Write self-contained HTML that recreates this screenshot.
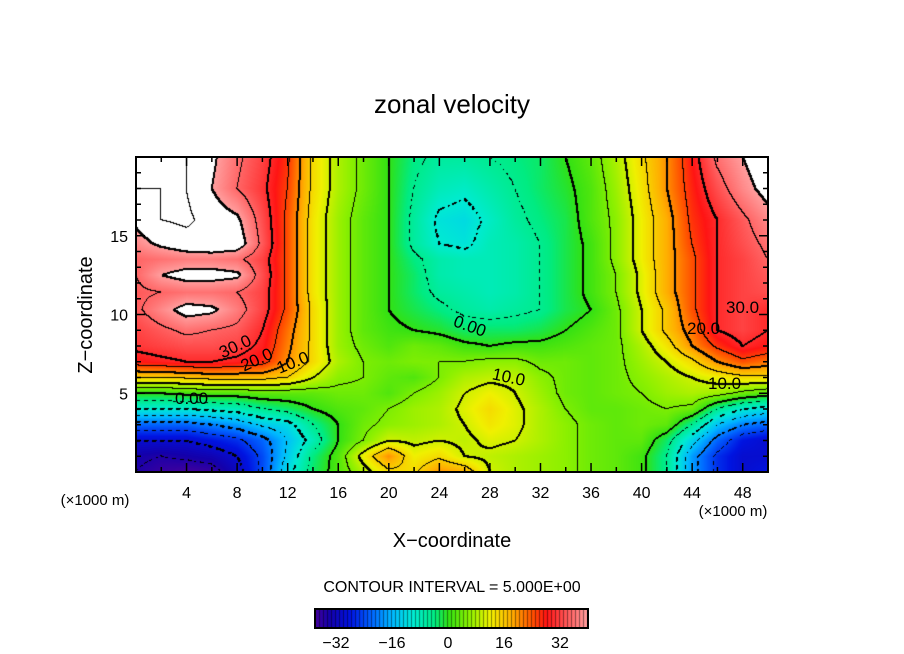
<!DOCTYPE html>
<html><head><meta charset="utf-8"><style>
body{margin:0;background:#fff;}
#wrap{position:relative;width:904px;height:654px;overflow:hidden;background:#fff;font-family:"Liberation Sans",sans-serif;}
canvas{position:absolute;}
svg{position:absolute;left:0;top:0;}
</style></head><body>
<div id="wrap">
<canvas id="field" width="632" height="315" style="left:136px;top:157px;"></canvas>
<canvas id="cbar" width="273" height="19" style="left:315px;top:609px;"></canvas>
<svg id="ov" width="904" height="654">
<text x="452" y="113" font-size="26" text-anchor="middle">zonal velocity</text>
<text x="452" y="547" font-size="20" text-anchor="middle">X−coordinate</text>
<text transform="translate(92,315) rotate(-90)" font-size="20" text-anchor="middle">Z−coordinate</text>
<text x="95" y="505" font-size="15" text-anchor="middle">(×1000 m)</text>
<text x="733" y="516" font-size="15" text-anchor="middle">(×1000 m)</text>
<text x="452" y="592" font-size="16" text-anchor="middle">CONTOUR INTERVAL = 5.000E+00</text>
<g id="ticks"></g>
<g font-size="17" fill="#000">
<text x="218" y="352" transform="rotate(-25 235 345)">30.0</text>
<text x="240" y="366" transform="rotate(-25 255 360)">20.0</text>
<text x="276" y="368" transform="rotate(-22 293 362)">10.0</text>
<text x="175" y="404">0.00</text>
<text x="452" y="332" transform="rotate(20 470 330)">0.00</text>
<text x="492" y="383" transform="rotate(12 510 378)">10.0</text>
<text x="726" y="313">30.0</text>
<text x="687" y="334">20.0</text>
<text x="708" y="389">10.0</text>
</g>
<rect x="136" y="157" width="632" height="315" fill="none" stroke="#000" stroke-width="2"/>
<rect x="315" y="609" width="273" height="19" fill="none" stroke="#000" stroke-width="2"/>
<g font-size="16" text-anchor="middle" id="cbl"></g>
</svg>
</div>
<script>
const xs=[0,2,4,6,8,10,12,14,16,18,20,22,24,26,28,30,32,34,36,38,40,42,44,46,48,50];
const zs=[0,1,2,3,4,5,6,7,8,9,10.3,11.4,12.5,13.5,14.5,16,18,20];
const z0=[-35,-37,-38,-37,-32,-24,-12,-3,2,8,14,14,20,18,10,8,7,6,4,3,1,-5,-18,-26,-30,-28];
const z1=[-34,-35,-34,-33,-30,-24,-14,-4,2,12,20,12,14,10,9,8,7,6,4,3,1,-5,-18,-26,-30,-30];
const z2=[-30,-30,-30,-28,-26,-22,-15,-8,0,5,10,9,10,9,11,10,8,6,4,3,3,-3,-13,-22,-28,-30];
const z3=[-22,-22,-22,-20,-18,-14,-12,-5,0,4,6,7,8,10,13,11,8,6,4,3,4,3,-5,-15,-20,-22];
const z4=[-10,-10,-10,-9,-8,-5,-3,0,2,3,5,7,8,11,14,11,8,5,3,3,4,5,4,-5,-10,-12];
const z5=[0,0,1,2,2,3,3,3,4,4,2,5,7,10,12,10,7,4,3,4,5,7,8,7,4,2];
const z6=[15,15,16,17,17,17,15,10,6,5,3,2,5,8,9,9,6,4,3,4,6,8,10,12,14,14];
const z7=[28,29,30,30,29,27,20,14,8,5,4,5,5,5,6,6,4,4,3,4,7,10,14,20,24,22];
const z8=[31,32,33,33,32,29,21,14,7,4,2,4,3,1,0,1,1,2,3,4,8,13,20,26,30,28];
const z9=[32,34,36,35,34,30,22,14,7,3,1,0,-1,-3,-3,-3,-2,0,2,4,10,16,22,30,32,30];
const z10=[34,38,42,41,37,32,24,14,7,3,0,-2,-4,-6,-7,-6,-5,-2,0,4,10,16,24,30,32,30];
const z11=[34,35,36,36,35,32,24,13,7,3,0,-3,-6,-7,-8,-7,-5,-2,1,5,11,18,24,30,32,33];
const z12=[35,40,42,42,41,33,24,13,7,3,0,-3,-7,-8,-8,-7,-5,-2,1,5,11,18,24,30,32,34];
const z13=[35,36,37,37,36,32,24,13,7,3,0,-4,-7,-8,-8,-7,-5,-2,1,6,12,18,24,30,32,35];
const z14=[38,41,43,44,43,34,24,13,7,3,0,-6,-10,-11,-8,-7,-5,-2,1,6,12,18,25,30,33,36];
const z16=[41,45,46,43,41,33,24,13,7,3,0,-6,-11,-12,-9,-6,-4,-2,2,6,12,18,26,30,34,38];
const z18=[45,45,45,40,35,31,25,14,8,4,0,-5,-8,-9,-7,-5,-3,-1,2,7,13,20,27,33,38,42];
const z20=[45,45,45,41,36,32,26,14,8,4,0,-4,-6,-6,-5,-4,-3,0,3,8,14,20,28,36,40,44];
const grid=[z0,z1,z2,z3,z4,z5,z6,z7,z8,z9,z10,z11,z12,z13,z14,z16,z18,z20];
const xTicks=[4,8,12,16,20,24,28,32,36,40,44,48];
const zTicks=[5,10,15];
const cbTicks=[-32,-16,0,16,32];

const stops=[[-40,[90,0,150]],[-34,[20,0,170]],[-28,[0,20,225]],[-22,[0,100,255]],[-16,[0,185,255]],[-10,[0,235,210]],[-4,[0,235,130]],[0,[50,225,20]],[6,[140,240,0]],[12,[240,240,0]],[18,[255,175,0]],[24,[255,80,0]],[28,[255,20,20]],[34,[255,90,90]],[40,[255,160,160]]];
function col(v){
  if(v>40) return [255,255,255];
  if(v<=stops[0][0]) return stops[0][1];
  for(let i=0;i<stops.length-1;i++){
    if(v<=stops[i+1][0]){const t=(v-stops[i][0])/(stops[i+1][0]-stops[i][0]);
      return stops[i][1].map((c,k)=>c+(stops[i+1][1][k]-c)*t);}
  }
  return stops[stops.length-1][1];
}
function seg(arr,v){let i=0;while(i<arr.length-2&&v>arr[i+1])i++;return i;}
function val(X,Z){
  const i=seg(xs,X),j=seg(zs,Z);
  const tx=Math.min(1,Math.max(0,(X-xs[i])/(xs[i+1]-xs[i]))),tz=Math.min(1,Math.max(0,(Z-zs[j])/(zs[j+1]-zs[j])));
  const a=grid[j][i],b=grid[j][i+1],c=grid[j+1][i],d=grid[j+1][i+1];
  return (a*(1-tx)+b*tx)*(1-tz)+(c*(1-tx)+d*tx)*tz;
}
const W=632,H=315;
const xScale=X=>136+X*W/50, zScale=Z=>472-Z*H/20;
const cv=document.getElementById('field'),ctx=cv.getContext('2d');
const img=ctx.createImageData(W,H);
const V=new Float32Array(W*H);
for(let j=0;j<H;j++)for(let i=0;i<W;i++)V[j*W+i]=val((i+0.5)*50/W,20-(j+0.5)*20/H);
for(let p=0;p<W*H;p++){const c=col(V[p]);img.data[p*4]=c[0];img.data[p*4+1]=c[1];img.data[p*4+2]=c[2];img.data[p*4+3]=255;}
function setBlack(i,j){if(i<0||j<0||i>=W||j>=H)return;const p=(j*W+i)*4;img.data[p]=img.data[p+1]=img.data[p+2]=0;}
for(let j=0;j<H-1;j++)for(let i=0;i<W-1;i++){
  const v=V[j*W+i];const a=Math.floor(v/5);
  const nb=[V[j*W+i+1],V[(j+1)*W+i]];
  for(const w of nb){const b=Math.floor(w/5);if(a!==b){
    const L=Math.max(a,b)*5;
    if(L<0&&(((i>>2)+(j>>2))&1))continue;
    setBlack(i,j);
    if(L%10===0){setBlack(i+1,j);setBlack(i,j+1);}
  }}
}
ctx.putImageData(img,0,0);
const cb=document.getElementById('cbar').getContext('2d');
for(let i=0;i<273;i++){const v=-38+i*78/273;const c=col(Math.min(v,40));cb.fillStyle=`rgb(${c.map(Math.round).join(',')})`;cb.fillRect(i,0,1,19);if(i%4===0){cb.fillStyle='rgba(0,0,0,0.45)';cb.fillRect(i,0,1,19);}}
const NS='http://www.w3.org/2000/svg';
const tg=document.getElementById('ticks');
function line(x1,y1,x2,y2,w){const l=document.createElementNS(NS,'line');l.setAttribute('x1',x1);l.setAttribute('y1',y1);l.setAttribute('x2',x2);l.setAttribute('y2',y2);l.setAttribute('stroke','#000');l.setAttribute('stroke-width',w);


tg.appendChild(l);}
function txt(g,x,y,s,anchor,name){const t=document.createElementNS(NS,'text');t.setAttribute('x',x);t.setAttribute('y',y);t.setAttribute('font-size','16');t.setAttribute('text-anchor',anchor);t.textContent=s;


g.appendChild(t);}
for(let X=2;X<50;X+=2){const x=xScale(X),L=X%4===0?9:5;line(x,472,x,472-L,1.5);line(x,157,x,157+L,1.5);}
xTicks.forEach(X=>txt(tg,xScale(X),498,String(X),'middle','x-tick-label'));
for(let Z=1;Z<20;Z++){const y=zScale(Z),L=Z%5===0?9:5;line(136,y,136+L,y,1.5);line(768,y,768-L,y,1.5);}
zTicks.forEach(Z=>txt(tg,128,zScale(Z)+6,String(Z),'end','y-tick-label'));
const cbl=document.getElementById('cbl');
cbTicks.forEach(v=>txt(cbl,448+v*56/16,648,(v<0?'−':'')+Math.abs(v),'middle','colorbar-tick-label'));
</script>
</body></html>
